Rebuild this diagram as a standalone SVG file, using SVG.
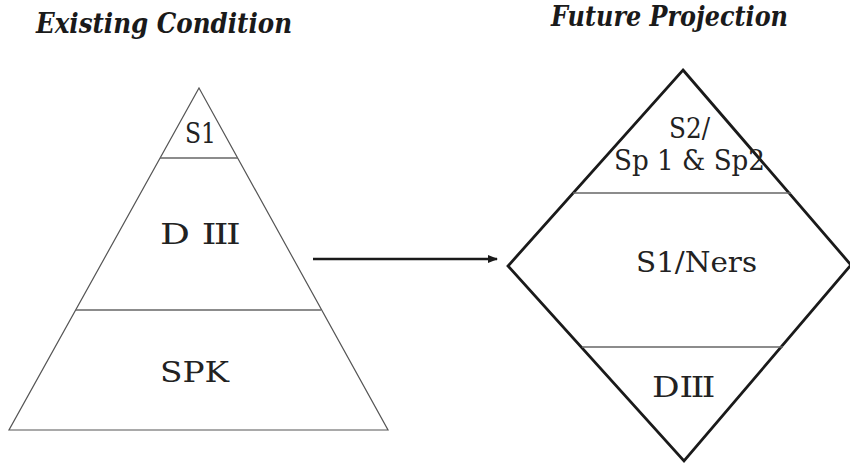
<svg xmlns="http://www.w3.org/2000/svg" width="850" height="464" viewBox="0 0 850 464">
<style>
.title{font-family:"DejaVu Serif","Liberation Serif",serif;font-weight:bold;font-style:italic;font-size:27px;fill:#1a1a1a}
.lbl{font-family:"DejaVu Serif","Liberation Serif",serif;font-size:28px;fill:#222}
.thin{fill:none;stroke:#555;stroke-width:1.2}
.thick{fill:none;stroke:#1a1a1a;stroke-width:2.8;stroke-linejoin:miter}
.div{stroke:#666;stroke-width:1.3}
</style>
<defs>
<marker id="ah" markerWidth="10" markerHeight="8" refX="9" refY="4" orient="auto" markerUnits="userSpaceOnUse">
<path d="M0,0 L10,4 L0,8 z" fill="#1a1a1a"/>
</marker>
</defs>
<rect width="850" height="464" fill="#fff"/>
<g id="titles">
<text class="title" x="36" y="33" textLength="256" lengthAdjust="spacingAndGlyphs">Existing Condition</text>
<text class="title" x="551" y="26" textLength="237" lengthAdjust="spacingAndGlyphs">Future Projection</text>
</g>
<g id="existing">
<polygon class="thin" points="199,88 388,430 9,430"/>
<line class="div" x1="160" y1="158" x2="238" y2="158"/>
<line class="div" x1="76" y1="310" x2="321" y2="310"/>
<text class="lbl" x="185" y="143" textLength="31" lengthAdjust="spacingAndGlyphs">S1</text>
<text class="lbl" x="160" y="244" textLength="78" lengthAdjust="spacingAndGlyphs">D <tspan letter-spacing="-2">III</tspan></text>
<text class="lbl" x="160" y="382" textLength="69" lengthAdjust="spacingAndGlyphs">SPK</text>
</g>
<g id="future">
<polygon class="thick" points="683,70 851,265 684,461 508,266"/>
<line class="div" x1="573" y1="193" x2="791" y2="193"/>
<line class="div" x1="582" y1="347" x2="783" y2="347"/>
<text class="lbl" x="669" y="138" textLength="41" lengthAdjust="spacingAndGlyphs">S2/</text>
<text class="lbl" x="614" y="170" textLength="151" lengthAdjust="spacingAndGlyphs">Sp 1 &amp; Sp2</text>
<text class="lbl" x="636" y="272" textLength="121" lengthAdjust="spacingAndGlyphs">S1/Ners</text>
<text class="lbl" x="652" y="397" textLength="61" lengthAdjust="spacingAndGlyphs">D<tspan letter-spacing="-2">III</tspan></text>
</g>
<g id="connectors">
<line x1="313" y1="259" x2="497" y2="259" stroke="#1a1a1a" stroke-width="2.6" marker-end="url(#ah)"/>
</g>
</svg>
